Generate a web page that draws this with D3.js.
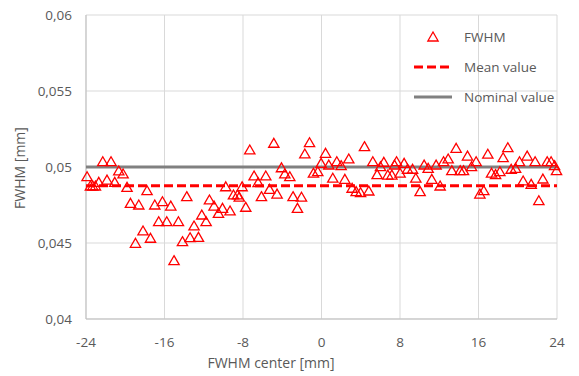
<!DOCTYPE html>
<html>
<head>
<meta charset="utf-8">
<script src="https://cdn.jsdelivr.net/npm/d3@7"></script>
<style>
  body { margin: 0; background: #fff; }
  text { font-family: "Open Sans", sans-serif; fill: #595959; }
</style>
</head>
<body>
<svg id="chart" width="579" height="376"></svg>
<script>
// FWHM measurements, x = FWHM center [mm], y = FWHM [mm]
var centers = [-23.89,-23.55,-23.31,-23.04,-22.70,-22.29,-21.86,-21.45,-21.07,-20.66,
  -20.22,-19.82,-19.47,-18.96,-18.62,-18.19,-17.78,-17.43,-16.99,-16.59,
  -16.21,-15.77,-15.36,-15.03,-14.58,-14.17,-13.73,-13.39,-12.99,-12.54,
  -12.20,-11.76,-11.42,-10.95,-10.50,-10.09,-9.76,-9.32,-8.97,-8.56,
  -8.38,-8.09,-7.72,-7.31,-6.87,-6.46,-6.12,-5.68,-5.30,-4.86,
  -4.53,-4.08,-3.74,-3.23,-2.90,-2.45,-2.04,-1.70,-1.22,-0.82,
  -0.38,-0.04,0.41,0.74,1.15,1.56,2.00,2.38,2.78,3.12,
  3.53,3.98,4.38,4.82,5.23,5.67,6.01,6.35,6.76,7.17,
  7.44,7.65,8.01,8.42,8.77,9.28,9.61,10.05,10.46,10.87,
  11.24,11.68,12.09,12.44,12.91,13.28,13.72,14.13,14.47,14.88,
  15.29,15.76,16.14,16.54,16.95,17.33,17.74,18.18,18.51,18.99,
  19.33,19.78,20.18,20.55,20.96,21.37,21.77,22.15,22.56,23.00,
  23.40,23.75,23.95];
var fwhm = [0.04936,0.04875,0.04875,0.04875,0.04899,0.05035,0.04914,0.05035,0.04899,0.04974,
  0.04954,0.04866,0.04761,0.04498,0.04750,0.04579,0.04844,0.04531,0.04750,0.04640,
  0.04772,0.04640,0.04743,0.04384,0.04640,0.04509,0.04805,0.04535,0.04612,0.04537,
  0.04684,0.04640,0.04783,0.04743,0.04695,0.04728,0.04870,0.04711,0.04816,0.04816,
  0.04801,0.04870,0.04735,0.05112,0.04941,0.04897,0.04805,0.04941,0.04853,0.05156,
  0.04822,0.04995,0.04954,0.04936,0.04805,0.04728,0.04801,0.05086,0.05160,0.04959,
  0.04969,0.05024,0.05090,0.05013,0.04926,0.05035,0.05009,0.04919,0.05053,0.04860,
  0.04838,0.04831,0.05134,0.04842,0.05035,0.04950,0.05002,0.05031,0.04947,0.04947,
  0.05013,0.05035,0.04959,0.05024,0.04985,0.04985,0.04926,0.04838,0.05013,0.04991,
  0.04919,0.05013,0.04875,0.05035,0.05053,0.04976,0.05123,0.04976,0.04976,0.05072,
  0.05002,0.05035,0.04822,0.04844,0.05084,0.04959,0.04950,0.04969,0.05061,0.05127,
  0.04985,0.04991,0.05035,0.04908,0.05072,0.04886,0.05035,0.04778,0.04921,0.05035,
  0.05035,0.05009,0.04976];
var meanValue = 0.04877;
var nominalValue = 0.05;
var xTicks = [-24,-16,-8,0,8,16,24];
var yTicks = [0.04,0.045,0.05,0.055,0.06];
var legendLabels = ["FWHM","Mean value","Nominal value"];

var svg = d3.select("#chart");
var plotL = 86, plotR = 557, plotT = 15, plotB = 319;

var x = d3.scaleLinear().domain([-24, 24]).range([plotL, plotR]);
var y = d3.scaleLinear().domain([0.04, 0.06]).range([plotB, plotT]);
var fmt = function(d) { return String(+d.toFixed(3)).replace(".", ","); };

// gridlines
svg.append("g").selectAll("line").data(yTicks).enter().append("line")
    .attr("x1", plotL).attr("x2", plotR)
    .attr("y1", function(d) { return y(d); }).attr("y2", function(d) { return y(d); })
    .attr("stroke", "#d9d9d9").attr("stroke-width", 1);
svg.append("g").selectAll("line").data(xTicks).enter().append("line")
    .attr("x1", function(d) { return x(d); }).attr("x2", function(d) { return x(d); })
    .attr("y1", plotT).attr("y2", plotB)
    .attr("stroke", "#d9d9d9").attr("stroke-width", 1);

// axis lines
svg.append("line").attr("x1", plotL).attr("x2", plotR).attr("y1", plotB).attr("y2", plotB)
    .attr("stroke", "#bfbfbf");
svg.append("line").attr("x1", plotL).attr("x2", plotL).attr("y1", plotT).attr("y2", plotB)
    .attr("stroke", "#bfbfbf");

// tick labels
svg.append("g").selectAll("text").data(yTicks).enter().append("text")
    .attr("x", 72).attr("y", function(d) { return y(d) + 5; })
    .attr("text-anchor", "end").style("font-size", "13.5px")
    .text(fmt);
svg.append("g").selectAll("text").data(xTicks).enter().append("text")
    .attr("x", function(d) { return x(d); }).attr("y", 347)
    .attr("text-anchor", "middle").style("font-size", "13.5px")
    .text(function(d) { return d; });

// axis titles
svg.append("text").attr("x", 271).attr("y", 368).attr("text-anchor", "middle")
    .style("font-size", "14px").text("FWHM center [mm]");
svg.append("text").attr("transform", "translate(25,168) rotate(-90)")
    .attr("text-anchor", "middle").style("font-size", "14px").text("FWHM [mm]");

// nominal + mean lines
svg.append("line").attr("x1", plotL).attr("x2", plotR)
    .attr("y1", y(nominalValue)).attr("y2", y(nominalValue))
    .attr("stroke", "#808080").attr("stroke-width", 3);
svg.append("line").attr("x1", plotL).attr("x2", plotR)
    .attr("y1", y(meanValue)).attr("y2", y(meanValue))
    .attr("stroke", "#ff0000").attr("stroke-width", 3).attr("stroke-dasharray", "9,4");

// points
var tri = d3.symbol().type(d3.symbolTriangle).size(46);
var pts = centers.map(function(c, i) { return { c: c, v: fwhm[i] }; });
svg.append("g").selectAll("path").data(pts).enter().append("path")
    .attr("d", tri)
    .attr("transform", function(d) { return "translate(" + x(d.c) + "," + (y(d.v) + 1) + ")"; })
    .attr("fill", "none").attr("stroke", "#ff0000").attr("stroke-width", 1.3);

// legend
var lg = svg.append("g");
lg.append("path").attr("d", tri).attr("transform", "translate(433,38)")
    .attr("fill", "none").attr("stroke", "#ff0000").attr("stroke-width", 1.3);
lg.append("line").attr("x1", 414).attr("x2", 452).attr("y1", 67).attr("y2", 67)
    .attr("stroke", "#ff0000").attr("stroke-width", 3).attr("stroke-dasharray", "9,4");
lg.append("line").attr("x1", 414).attr("x2", 452).attr("y1", 97).attr("y2", 97)
    .attr("stroke", "#808080").attr("stroke-width", 3);
lg.selectAll("text").data(legendLabels).enter().append("text")
    .attr("x", 464).attr("y", function(d, i) { return 42 + i * 30; })
    .style("font-size", "13.5px")
    .text(function(d) { return d; });
</script>
</body>
</html>
